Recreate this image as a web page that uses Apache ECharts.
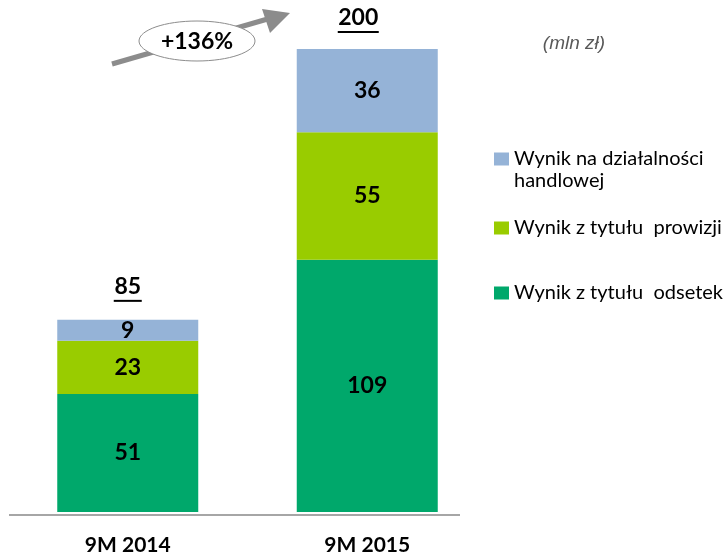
<!DOCTYPE html>
<html>
<head>
<meta charset="utf-8">
<script src="https://cdn.jsdelivr.net/npm/echarts@6/dist/echarts.min.js"></script>
<style>
  html, body { margin: 0; padding: 0; background: #fff; }
  #chart { width: 726px; height: 556px; }
</style>
</head>
<body>
<div id="chart"></div>
<script>
const categories = ['9M 2014', '9M 2015'];
const odsetek = [51, 109];
const prowizji = [23, 55];
const handlowej = [9, 36];
const totals = [85, 200];

const seriesNames = ['Wynik z tytułu  odsetek', 'Wynik z tytułu  prowizji', 'Wynik na działalności handlowej'];
const colors = ['#00A86B', '#99CC00', '#95B3D7'];

document.addEventListener('DOMContentLoaded', () => {
    var chart = echarts.init(document.getElementById('chart'));
    const font = 'Lato, "Open Sans", sans-serif';

    const segLabel = {
        show: true,
        position: 'inside',
        color: '#000',
        fontFamily: font,
        fontWeight: 'bold',
        fontSize: 23
    };

    // osobna legenda dla każdej pozycji (nierówne odstępy jak w oryginale)
    function legendAt(name, top, twoLines) {
        return {
            data: [name],
            left: 494,
            top: top,
            padding: 0,
            itemWidth: 15,
            itemHeight: 13,
            itemGap: 0,
            icon: 'rect',
            // pusta pierwsza linia, żeby ikona stała przy pierwszym wierszu tekstu
            formatter: n => twoLines ? ' \nWynik na działalności\nhandlowej' : n,
            textStyle: { fontFamily: font, fontSize: 20, color: '#000', lineHeight: 22 }
        };
    }

    const option = {
        animation: false,
        grid: { left: 8, right: 239, top: 49, bottom: 41 },
        legend: [
            legendAt(seriesNames[2], 126, true),
            legendAt(seriesNames[1], 217, false),
            legendAt(seriesNames[0], 282, false)
        ],
        xAxis: {
            type: 'category',
            data: categories,
            axisLine: { show: false },
            axisTick: { show: false },
            axisLabel: {
                margin: 23,
                color: '#000',
                fontFamily: font,
                fontWeight: 'bold',
                fontSize: 21
            }
        },
        yAxis: {
            type: 'value',
            min: 0,
            max: 200,
            show: false,
            splitLine: { show: false }
        },
        series: [
            {
                name: seriesNames[0], type: 'bar', stack: 'a', barWidth: 141,
                itemStyle: { color: colors[0] }, label: segLabel, data: odsetek
            },
            {
                name: seriesNames[1], type: 'bar', stack: 'a',
                itemStyle: { color: colors[1] }, label: segLabel, data: prowizji
            },
            {
                name: seriesNames[2], type: 'bar', stack: 'a',
                itemStyle: { color: colors[2] }, label: segLabel, data: handlowej
            },
            {
                // sumy nad słupkami (podkreślone)
                name: 'Suma', type: 'scatter', symbol: 'rect',
                itemStyle: { color: '#000', opacity: 1 },
                label: {
                    show: true, position: 'top', distance: 2,
                    color: '#000', fontFamily: font, fontWeight: 'bold', fontSize: 23,
                    formatter: p => totals[p.dataIndex]
                },
                data: [
                    { value: 83, symbolSize: [28, 2], symbolOffset: [0, -19] },
                    { value: 200, symbolSize: [41, 2], symbolOffset: [-9, -17] }
                ]
            }
        ],
        graphic: [
            { type: 'line', shape: { x1: 9, y1: 515, x2: 460, y2: 515 }, style: { stroke: '#888', lineWidth: 1.5 } },
            { type: 'line', shape: { x1: 112, y1: 64, x2: 278, y2: 16 }, style: { stroke: '#8C8C8C', lineWidth: 5 } },
            { type: 'polygon', shape: { points: [[290, 13], [262, 9], [270, 33]] }, style: { fill: '#8C8C8C' } },
            { type: 'ellipse', shape: { cx: 197, cy: 41, rx: 58, ry: 20 }, style: { fill: '#fff', stroke: '#8C8C8C', lineWidth: 1 } },
            { type: 'text', x: 197, y: 42, style: { text: '+136%', align: 'center', verticalAlign: 'middle', fontFamily: font, fontWeight: 'bold', fontSize: 23, fill: '#000' } },
            { type: 'text', x: 574, y: 44, style: { text: '(mln zł)', align: 'center', verticalAlign: 'middle', fontFamily: '"Liberation Sans", Arial, sans-serif', fontStyle: 'italic', fontSize: 19, fill: '#595959' } }
        ]
    };

    chart.setOption(option);
    window.addEventListener('resize', () => chart.resize());
});
</script>
</body>
</html>
